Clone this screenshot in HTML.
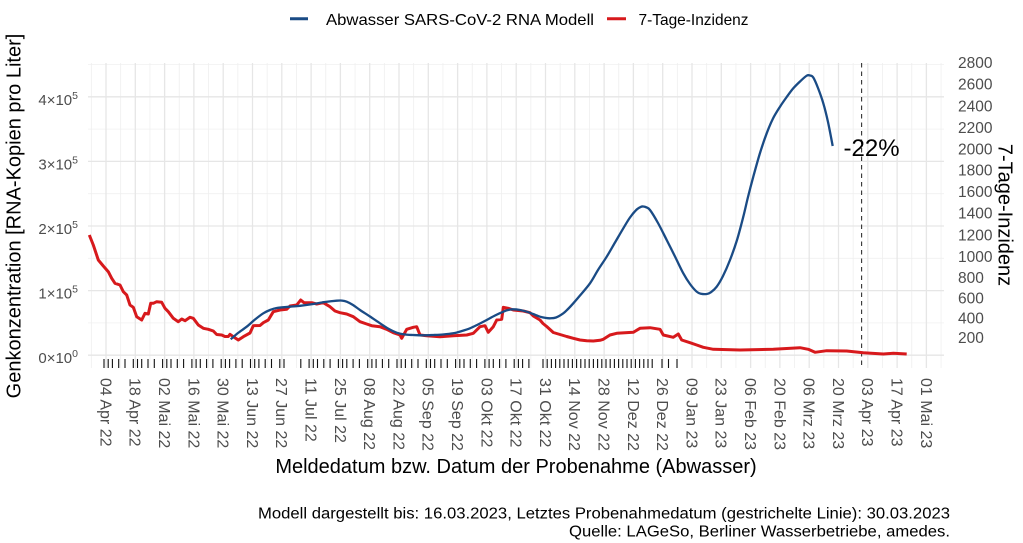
<!DOCTYPE html>
<html>
<head>
<meta charset="utf-8">
<style>
  html,body{margin:0;padding:0;background:#fff;}
  svg{display:block;font-family:"Liberation Sans",Arial,sans-serif;}
</style>
</head>
<body>
<svg id="chart" width="1023" height="543" viewBox="0 0 1023 543" xmlns="http://www.w3.org/2000/svg">
  <rect x="0" y="0" width="1023" height="543" fill="#fff"/>

  <!-- minor horizontal grid -->
  <g stroke="#f0f0f0" stroke-width="0.8">
    <line x1="88" x2="944" y1="64.5" y2="64.5"/>
    <line x1="88" x2="944" y1="129.1" y2="129.1"/>
    <line x1="88" x2="944" y1="193.7" y2="193.7"/>
    <line x1="88" x2="944" y1="258.3" y2="258.3"/>
    <line x1="88" x2="944" y1="322.9" y2="322.9"/>
  </g>
  <!-- minor vertical grid -->
  <g stroke="#efefef" stroke-width="0.8">
    <line x1="91.35" x2="91.35" y1="63" y2="368"/>
    <line x1="120.65" x2="120.65" y1="63" y2="368"/>
    <line x1="149.95" x2="149.95" y1="63" y2="368"/>
    <line x1="179.25" x2="179.25" y1="63" y2="368"/>
    <line x1="208.55" x2="208.55" y1="63" y2="368"/>
    <line x1="237.85" x2="237.85" y1="63" y2="368"/>
    <line x1="267.15" x2="267.15" y1="63" y2="368"/>
    <line x1="296.45" x2="296.45" y1="63" y2="368"/>
    <line x1="325.75" x2="325.75" y1="63" y2="368"/>
    <line x1="355.05" x2="355.05" y1="63" y2="368"/>
    <line x1="384.35" x2="384.35" y1="63" y2="368"/>
    <line x1="413.65" x2="413.65" y1="63" y2="368"/>
    <line x1="442.95" x2="442.95" y1="63" y2="368"/>
    <line x1="472.25" x2="472.25" y1="63" y2="368"/>
    <line x1="501.55" x2="501.55" y1="63" y2="368"/>
    <line x1="530.85" x2="530.85" y1="63" y2="368"/>
    <line x1="560.15" x2="560.15" y1="63" y2="368"/>
    <line x1="589.45" x2="589.45" y1="63" y2="368"/>
    <line x1="618.75" x2="618.75" y1="63" y2="368"/>
    <line x1="648.05" x2="648.05" y1="63" y2="368"/>
    <line x1="677.35" x2="677.35" y1="63" y2="368"/>
    <line x1="706.65" x2="706.65" y1="63" y2="368"/>
    <line x1="735.95" x2="735.95" y1="63" y2="368"/>
    <line x1="765.25" x2="765.25" y1="63" y2="368"/>
    <line x1="794.55" x2="794.55" y1="63" y2="368"/>
    <line x1="823.85" x2="823.85" y1="63" y2="368"/>
    <line x1="853.15" x2="853.15" y1="63" y2="368"/>
    <line x1="882.45" x2="882.45" y1="63" y2="368"/>
    <line x1="911.75" x2="911.75" y1="63" y2="368"/>
    <line x1="941.05" x2="941.05" y1="63" y2="368"/>
  </g>
  <!-- major horizontal grid -->
  <g stroke="#e6e6e6" stroke-width="1.3">
    <line x1="88" x2="944" y1="96.8" y2="96.8"/>
    <line x1="88" x2="944" y1="161.4" y2="161.4"/>
    <line x1="88" x2="944" y1="226" y2="226"/>
    <line x1="88" x2="944" y1="290.6" y2="290.6"/>
    <line x1="88" x2="944" y1="355.2" y2="355.2"/>
  </g>
  <!-- major vertical grid -->
  <g stroke="#e6e6e6" stroke-width="1.3">
    <line x1="106" x2="106" y1="63" y2="368"/>
    <line x1="135.3" x2="135.3" y1="63" y2="368"/>
    <line x1="164.6" x2="164.6" y1="63" y2="368"/>
    <line x1="193.9" x2="193.9" y1="63" y2="368"/>
    <line x1="223.2" x2="223.2" y1="63" y2="368"/>
    <line x1="252.5" x2="252.5" y1="63" y2="368"/>
    <line x1="281.8" x2="281.8" y1="63" y2="368"/>
    <line x1="311.1" x2="311.1" y1="63" y2="368"/>
    <line x1="340.4" x2="340.4" y1="63" y2="368"/>
    <line x1="369.7" x2="369.7" y1="63" y2="368"/>
    <line x1="399" x2="399" y1="63" y2="368"/>
    <line x1="428.3" x2="428.3" y1="63" y2="368"/>
    <line x1="457.6" x2="457.6" y1="63" y2="368"/>
    <line x1="486.9" x2="486.9" y1="63" y2="368"/>
    <line x1="516.2" x2="516.2" y1="63" y2="368"/>
    <line x1="545.5" x2="545.5" y1="63" y2="368"/>
    <line x1="574.8" x2="574.8" y1="63" y2="368"/>
    <line x1="604.1" x2="604.1" y1="63" y2="368"/>
    <line x1="633.4" x2="633.4" y1="63" y2="368"/>
    <line x1="662.7" x2="662.7" y1="63" y2="368"/>
    <line x1="692" x2="692" y1="63" y2="368"/>
    <line x1="721.3" x2="721.3" y1="63" y2="368"/>
    <line x1="750.6" x2="750.6" y1="63" y2="368"/>
    <line x1="779.9" x2="779.9" y1="63" y2="368"/>
    <line x1="809.2" x2="809.2" y1="63" y2="368"/>
    <line x1="838.5" x2="838.5" y1="63" y2="368"/>
    <line x1="867.8" x2="867.8" y1="63" y2="368"/>
    <line x1="897.1" x2="897.1" y1="63" y2="368"/>
    <line x1="926.4" x2="926.4" y1="63" y2="368"/>
  </g>

  <!-- rug ticks -->
  <path stroke="#111" stroke-width="1.1" fill="none" d="
    M104 359V368 M108.2 359V368 M112.4 359V368 M118.7 359V368 M125 359V368
    M133.3 359V368 M137.5 359V368 M141.7 359V368 M148 359V368 M154.3 359V368
    M162.6 359V368 M166.8 359V368 M171 359V368 M177.3 359V368 M183.6 359V368
    M191.9 359V368 M196.1 359V368 M200.3 359V368 M206.6 359V368 M212.9 359V368
    M221.2 359V368 M225.4 359V368 M229.6 359V368 M235.9 359V368 M242.2 359V368
    M250.5 359V368 M254.7 359V368 M258.9 359V368 M265.2 359V368 M271.5 359V368
    M279.8 359V368 M284 359V368 M300.8 359V368
    M309.1 359V368 M313.3 359V368 M317.5 359V368 M323.8 359V368 M330.1 359V368
    M338.4 359V368 M342.6 359V368 M346.8 359V368 M353.1 359V368 M359.4 359V368
    M367.7 359V368 M371.9 359V368 M376.1 359V368 M382.4 359V368 M388.7 359V368
    M397 359V368 M401.2 359V368 M405.4 359V368 M411.7 359V368 M418 359V368
    M426.3 359V368 M430.5 359V368 M434.7 359V368 M441 359V368 M447.3 359V368
    M455.6 359V368 M459.8 359V368 M464 359V368 M470.3 359V368 M476.6 359V368
    M484.9 359V368 M489.1 359V368 M493.3 359V368 M499.6 359V368 M505.9 359V368
    M514.2 359V368 M518.4 359V368 M522.6 359V368 M528.9 359V368
    M543 359V368 M547.2 359V368 M551.4 359V368 M555.6 359V368 M559.8 359V368
    M564 359V368 M568.2 359V368 M572.4 359V368 M576.6 359V368 M580.8 359V368
    M585 359V368 M589.2 359V368 M593.4 359V368 M597.6 359V368 M601.8 359V368
    M606 359V368 M610.2 359V368 M614.4 359V368 M618.6 359V368 M622.8 359V368
    M627 359V368 M631.2 359V368 M635.4 359V368 M639.6 359V368 M643.8 359V368
    M648 359V368 M652.2 359V368
    M662 359V368 M668.5 359V368 M677 359V368"/>

  <!-- dashed line -->
  <line x1="861.6" x2="861.6" y1="63" y2="368" stroke="#333" stroke-width="1.1" stroke-dasharray="4.5 4"/>

  <!-- red incidence line -->
  <polyline fill="none" stroke="#d7191c" stroke-width="3" stroke-linejoin="round" stroke-linecap="butt" points="
    89.3,235 93.3,245 98.3,260 103.3,266 108.3,271.7 111.7,278.3 115,283.3 120,285 123.3,291.7 126.7,295
    130,305 133.3,307.3 136.7,316.7 141.7,320 145,313.3 148.3,314 150.7,303.3 153.3,303.3 156.7,301.7
    161.7,302.3 165,308.3 168.3,311.7 173.3,318.3 178.3,321.7 181.7,319 185,320.7 190,317.3 193.3,318.3
    198.3,325 203.3,328.3 208.3,329.3 213.3,331 216.7,334.5 221.7,335 225,336.5 228.3,336.5 230,334.3
    233.3,336.7 238.3,340 243.3,336.7 250,333 253.3,325.7 260,325.5 263.3,322.7 268.3,320 273.3,311.7
    280,310 286.7,309.3 290,306 296.7,305 300.7,300 304,302.7 311.7,302.7 316.7,304 323.3,302.7 330,306.7
    335,311 340,312.7 346.7,314 353.3,316.7 360,321.7 366.7,324 371.7,325.7 380,326.7 386.7,329.3
    393.3,332.7 400,335 401.7,338.3 406.7,329.3 413.3,327.3 416.7,326.7 420,335 426.7,335.7 440,336.7
    453.3,335.7 466.7,335 473.3,333.3 480,326.7 485,325.7 488.3,332.3 493.3,326.7 496.7,320 501.7,319.3
    503.3,307.3 508.3,308.3 513.3,310 523.3,311 530,312.7 533.3,316 540,320 543,323.5 546.7,326.5
    553.3,332.5 560,334.5 566.7,336.5 573.3,338.3 580,340 586.7,340.7 593.3,341 600,340.3 603.3,339.3
    610,335 616.7,333.3 633.3,332.3 640,328.3 650,327.7 660,329.3 663.3,335 673.3,337.3 678.3,334
    681.7,340 690,342.7 696.7,345 703.3,347.3 713.3,349.3 740,350 773.3,349.3 800,347.7 808.3,349.3
    815,352.3 826.7,350.7 846.7,351 863.3,352.7 883.3,354 893.3,353.3 906.7,354"/>

  <!-- blue model line -->
  <polyline id="blue" fill="none" stroke="#1a4b85" stroke-width="2.3" stroke-linejoin="round" stroke-linecap="butt" points="
    230.7,339.3 238,333 246.7,326.7 255,319.5 263.3,313.3 270,310 276.7,308 290,306.7 300,305.8 313.3,304
    325,302 336.7,300.7 342,300.6 346.7,301.7 353,305 360,310 370,316.5 380,323.3 388,328.5 396.7,332.7
    405,334.5 413.3,335 423,335.3 433.3,335 443,334.5 453.3,333.3 462,331 470,328.3 478,324.5 486.7,320
    495,315.5 503.3,311.7 508,310 513.3,309.3 520,310 526.7,311.7 533,314 540,316.7 545,317.8 550,318.3
    556,317.5 563.3,313.3 568,309 573.3,303.3 580,295.5 590,283.3 598,270 606.7,256.7 615,242.5
    623.3,228.3 630,217.5 636.7,209.5 641,206.8 643.3,206.5 646,207.2 650,210 658,223 666.7,240 675,256.5
    683.3,273.3 690,284 696.7,291.7 701,293.7 706.7,294 711,292.2 716.7,286.7 723,276 730,260 737,240
    743.3,216.7 748,197 753.3,176.7 760,153 766.7,133.3 773,118.5 780,106.7 786.7,97 793.3,88.3 800,81.5
    806.7,75.7 810,75.5 813.3,77.5 818,88 823.3,103.3 828,122 832.7,146"/>

  <!-- annotation -->
  <text x="843.5" y="156" font-size="24" fill="#000">-22%</text>

  <!-- left y tick labels -->
  <g font-size="15" fill="#4d4d4d" text-anchor="end">
    <text x="78" y="104.8">4<tspan>×</tspan>10<tspan font-size="10.5" dy="-6">5</tspan></text>
    <text x="78" y="169.4">3<tspan>×</tspan>10<tspan font-size="10.5" dy="-6">5</tspan></text>
    <text x="78" y="234">2<tspan>×</tspan>10<tspan font-size="10.5" dy="-6">5</tspan></text>
    <text x="78" y="298.6">1<tspan>×</tspan>10<tspan font-size="10.5" dy="-6">5</tspan></text>
    <text x="78" y="363.2">0<tspan>×</tspan>10<tspan font-size="10.5" dy="-6">0</tspan></text>
  </g>

  <!-- right y tick labels -->
  <g font-size="15.5" fill="#4d4d4d">
    <text x="958" y="68.1">2800</text>
    <text x="958" y="89.7">2600</text>
    <text x="958" y="111.4">2400</text>
    <text x="958" y="133.1">2200</text>
    <text x="958" y="154.4">2000</text>
    <text x="958" y="175.4">1800</text>
    <text x="958" y="197.1">1600</text>
    <text x="958" y="218.7">1400</text>
    <text x="958" y="240.4">1200</text>
    <text x="958" y="262.1">1000</text>
    <text x="958" y="283.1">800</text>
    <text x="958" y="303.7">600</text>
    <text x="958" y="323.7">400</text>
    <text x="958" y="343.1">200</text>
  </g>

  <!-- x tick labels -->
  <g font-size="16" fill="#4d4d4d">
    <text transform="translate(106,378) rotate(90)" dy="0.35em">04 Apr 22</text>
    <text transform="translate(135.3,378) rotate(90)" dy="0.35em">18 Apr 22</text>
    <text transform="translate(164.6,378) rotate(90)" dy="0.35em">02 Mai 22</text>
    <text transform="translate(193.9,378) rotate(90)" dy="0.35em">16 Mai 22</text>
    <text transform="translate(223.2,378) rotate(90)" dy="0.35em">30 Mai 22</text>
    <text transform="translate(252.5,378) rotate(90)" dy="0.35em">13 Jun 22</text>
    <text transform="translate(281.8,378) rotate(90)" dy="0.35em">27 Jun 22</text>
    <text transform="translate(311.1,378) rotate(90)" dy="0.35em">11 Jul 22</text>
    <text transform="translate(340.4,378) rotate(90)" dy="0.35em">25 Jul 22</text>
    <text transform="translate(369.7,378) rotate(90)" dy="0.35em">08 Aug 22</text>
    <text transform="translate(399,378) rotate(90)" dy="0.35em">22 Aug 22</text>
    <text transform="translate(428.3,378) rotate(90)" dy="0.35em">05 Sep 22</text>
    <text transform="translate(457.6,378) rotate(90)" dy="0.35em">19 Sep 22</text>
    <text transform="translate(486.9,378) rotate(90)" dy="0.35em">03 Okt 22</text>
    <text transform="translate(516.2,378) rotate(90)" dy="0.35em">17 Okt 22</text>
    <text transform="translate(545.5,378) rotate(90)" dy="0.35em">31 Okt 22</text>
    <text transform="translate(574.8,378) rotate(90)" dy="0.35em">14 Nov 22</text>
    <text transform="translate(604.1,378) rotate(90)" dy="0.35em">28 Nov 22</text>
    <text transform="translate(633.4,378) rotate(90)" dy="0.35em">12 Dez 22</text>
    <text transform="translate(662.7,378) rotate(90)" dy="0.35em">26 Dez 22</text>
    <text transform="translate(692,378) rotate(90)" dy="0.35em">09 Jan 23</text>
    <text transform="translate(721.3,378) rotate(90)" dy="0.35em">23 Jan 23</text>
    <text transform="translate(750.6,378) rotate(90)" dy="0.35em">06 Feb 23</text>
    <text transform="translate(779.9,378) rotate(90)" dy="0.35em">20 Feb 23</text>
    <text transform="translate(809.2,378) rotate(90)" dy="0.35em">06 Mrz 23</text>
    <text transform="translate(838.5,378) rotate(90)" dy="0.35em">20 Mrz 23</text>
    <text transform="translate(867.8,378) rotate(90)" dy="0.35em">03 Apr 23</text>
    <text transform="translate(897.1,378) rotate(90)" dy="0.35em">17 Apr 23</text>
    <text transform="translate(926.4,378) rotate(90)" dy="0.35em">01 Mai 23</text>
  </g>

  <!-- axis titles -->
  <text transform="translate(20.5,216) rotate(-90)" text-anchor="middle" font-size="20" fill="#000">Genkonzentration [RNA-Kopien pro Liter]</text>
  <text transform="translate(998.5,215) rotate(90)" text-anchor="middle" font-size="20" fill="#000">7-Tage-Inzidenz</text>
  <text x="516" y="473" text-anchor="middle" font-size="20" fill="#000">Meldedatum bzw. Datum der Probenahme (Abwasser)</text>

  <!-- legend -->
  <line x1="290" x2="308" y1="18.7" y2="18.7" stroke="#1a4b85" stroke-width="3"/>
  <text x="326" y="25" font-size="16" fill="#000" textLength="268" lengthAdjust="spacingAndGlyphs">Abwasser SARS-CoV-2 RNA Modell</text>
  <line x1="607" x2="626" y1="18.7" y2="18.7" stroke="#d7191c" stroke-width="3"/>
  <text x="638.5" y="25" font-size="16" fill="#000" textLength="110" lengthAdjust="spacingAndGlyphs">7-Tage-Inzidenz</text>

  <!-- caption -->
  <text x="950" y="518.5" text-anchor="end" font-size="15.5" fill="#000" textLength="692" lengthAdjust="spacingAndGlyphs">Modell dargestellt bis: 16.03.2023, Letztes Probenahmedatum (gestrichelte Linie): 30.03.2023</text>
  <text x="950" y="536.5" text-anchor="end" font-size="15.5" fill="#000" textLength="381" lengthAdjust="spacingAndGlyphs">Quelle: LAGeSo, Berliner Wasserbetriebe, amedes.</text>
</svg>
<script>
(function(){
  try{
    var pl=document.getElementById('blue');
    var pts=pl.getAttribute('points').trim().split(/\s+/).map(function(s){return s.split(',').map(Number);});
    var d='M'+pts[0][0]+','+pts[0][1];
    for(var i=0;i<pts.length-1;i++){
      var p0=pts[i-1]||pts[i],p1=pts[i],p2=pts[i+1],p3=pts[i+2]||p2;
      var c1x=p1[0]+(p2[0]-p0[0])/6,c1y=p1[1]+(p2[1]-p0[1])/6;
      var c2x=p2[0]-(p3[0]-p1[0])/6,c2y=p2[1]-(p3[1]-p1[1])/6;
      d+=' C'+c1x.toFixed(2)+','+c1y.toFixed(2)+' '+c2x.toFixed(2)+','+c2y.toFixed(2)+' '+p2[0]+','+p2[1];
    }
    var p=document.createElementNS('http://www.w3.org/2000/svg','path');
    p.setAttribute('d',d);
    p.setAttribute('fill','none');
    p.setAttribute('stroke','#1a4b85');
    p.setAttribute('stroke-width','2.3');
    p.setAttribute('stroke-linejoin','round');
    pl.parentNode.replaceChild(p,pl);
  }catch(e){}
})();
</script>
</body>
</html>
